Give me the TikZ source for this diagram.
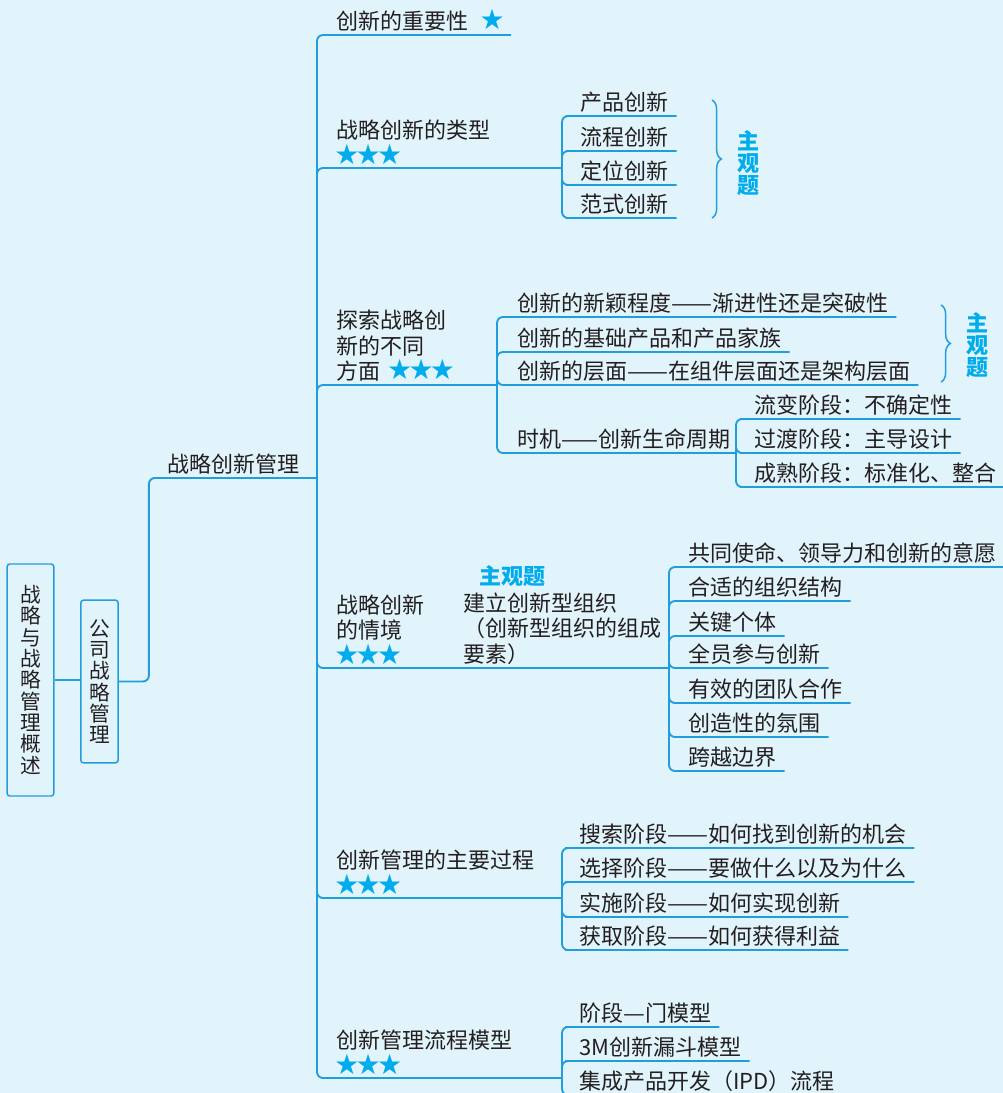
\documentclass[tikz,border=0pt]{standalone}
\usepackage{fontspec}
\setmainfont{Noto Sans CJK SC}
\newfontfamily\starfont{DejaVu Sans}
\usetikzlibrary{decorations.pathreplacing}

\definecolor{bgblue}{RGB}{225,243,251}
\definecolor{lineblue}{RGB}{32,158,220}
\definecolor{starblue}{RGB}{0,172,236}
\definecolor{txtgray}{RGB}{35,31,32}

\newcommand\xing{\makebox[16pt]{\color{starblue}\fontsize{21}{21}\starfont ★}}
\newcommand\sanxing{\xing\xing\xing}
\newcommand\pozhe[1]{\scalebox{1.11}[1]{#1}}

\tikzset{
  conn/.style={draw=lineblue, line width=1.4pt, rounded corners=4.5pt},
  topic/.style={anchor=south west, inner xsep=6pt, inner ysep=2.5pt, align=left,
    text=txtgray, font=\fontsize{16.5}{19}\selectfont},
  vbox/.style={draw=lineblue, line width=1.1pt, rounded corners=2pt, fill=bgblue,
    align=center, inner sep=0pt, text=txtgray, font=\fontsize{15.5}{16}\selectfont},
  tag/.style={align=center, inner sep=0pt, text=starblue,
    font=\fontsize{16.5}{16.5}\selectfont\bfseries},
  kuohao/.style={draw=lineblue, line width=1.1pt, decorate,
    decoration={brace, amplitude=7pt}}
}

\begin{document}
\begin{tikzpicture}[x=0.75pt, y=-0.75pt]

  \path[use as bounding box, fill=bgblue] (0,0) rectangle (1003,1093);

  % left boxes
  \node[vbox, minimum width=35pt, minimum height=174pt] (gl) at (30.5,680)
    {战\\略\\与\\战\\略\\管\\理\\概\\述};
  \node[vbox, minimum width=28pt, minimum height=122pt] (gs) at (99.5,681.5)
    {公\\司\\战\\略\\管\\理};
  \draw[conn] (gl.east) -- (gl.east -| gs.west);

  \node[topic] (scm) at (159,478) {战略创新管理};
  \coordinate (jA) at (317,478);
  \draw[conn] (gs.east) -- ++(30,0) |- (scm.south west) -- (jA);

  % main branches
  \node[topic] (n1) at (328,35) {创新的重要性\hspace{0.6em}\xing};
  \node[topic] (n2) at (328,168) {战略创新的类型\\\sanxing};
  \node[topic] (n3) at (328,385) {探索战略创\\新的不同\\方面\hspace{0.4em}\sanxing};
  \node[topic] (n4) at (328,668) {战略创新\\的情境\\\sanxing};
  \node[topic] (n5) at (328,898) {创新管理的主要过程\\\sanxing};
  \node[topic] (n6) at (328,1078) {创新管理流程模型\\\sanxing};

  \coordinate (jB) at (562,168);
  \coordinate (jC) at (497,385);
  \coordinate (jD) at (669,668);
  \coordinate (jE) at (562,898);
  \coordinate (jF) at (562,1078);
  \coordinate (jG) at (736,453);

  \draw[conn] (jA) |- (n1.south west) -- (n1.south east);
  \draw[conn] (jA) |- (n2.south west) -- (jB);
  \draw[conn] (jA) |- (n3.south west) -- (jC);
  \draw[conn] (jA) |- (n4.south west) -- (jD);
  \draw[conn] (jA) |- (n5.south west) -- (jE);
  \draw[conn] (jA) |- (n6.south west) -- (jF);

  % types
  \node[topic] (t1) at (572,116) {产品创新};
  \node[topic] (t2) at (572,151) {流程创新};
  \node[topic] (t3) at (572,185) {定位创新};
  \node[topic] (t4) at (572,218) {范式创新};
  \draw[conn] (jB) |- (t1.south west) -- (t1.south east);
  \draw[conn] (jB) |- (t2.south west) -- (t2.south east);
  \draw[conn] (jB) |- (t3.south west) -- (t3.south east);
  \draw[conn] (jB) |- (t4.south west) -- (t4.south east);

  \draw[kuohao] (712,100) -- (712,218);
  \node[tag] (zg1) at (748,163) {主\\观\\题};

  % facets
  \node[topic] (f1) at (509,317) {创新的新颖程度\pozhe{——}渐进性还是突破性};
  \node[topic] (f2) at (509,352) {创新的基础产品和产品家族};
  \node[topic] (f3) at (509,385) {创新的层面\pozhe{——}在组件层面还是架构层面};
  \node[topic] (f4) at (509,453) {时机——创新生命周期};
  \draw[conn] (jC) |- (f1.south west) -- (f1.south east);
  \draw[conn] (jC) |- (f2.south west) -- (f2.south east);
  \draw[conn] (jC) |- (f3.south west) -- (f3.south east);
  \draw[conn] (jC) |- (f4.south west) -- (jG);

  \draw[kuohao] (941,305) -- (941,382);
  \node[tag] (zg2) at (977,345) {主\\观\\题};

  \node[topic] (s1) at (746,419) {流变阶段：不确定性};
  \node[topic] (s2) at (746,453) {过渡阶段：主导设计};
  \node[topic] (s3) at (746,487) {成熟阶段：标准化、整合};
  \draw[conn] (jG) |- (s1.south west) -- (s1.south east);
  \draw[conn] (jG) |- (s2.south west) -- (s2.south east);
  \draw[conn] (jG) |- (s3.south west) -- (s3.south east);

  % organization
  \node[tag] (zg3) at (512,576) {主观题};
  \node[topic] (org) at (455,668) {建立创新型组织\\（创新型组织的组成\\要素）};
  \draw[conn] (n4.south east) -- (org.south west);

  \node[topic] (o1) at (680,567) {共同使命、领导力和创新的意愿};
  \node[topic] (o2) at (680,601) {合适的组织结构};
  \node[topic] (o3) at (680,636) {关键个体};
  \node[topic] (o4) at (680,668) {全员参与创新};
  \node[topic] (o5) at (680,703) {有效的团队合作};
  \node[topic] (o6) at (680,737) {创造性的氛围};
  \node[topic] (o7) at (680,771) {跨越边界};
  \draw[conn] (jD) |- (o1.south west) -- (o1.south east);
  \draw[conn] (jD) |- (o2.south west) -- (o2.south east);
  \draw[conn] (jD) |- (o3.south west) -- (o3.south east);
  \draw[conn] (jD) |- (o4.south west) -- (o4.south east);
  \draw[conn] (jD) |- (o5.south west) -- (o5.south east);
  \draw[conn] (jD) |- (o6.south west) -- (o6.south east);
  \draw[conn] (jD) |- (o7.south west) -- (o7.south east);

  % process
  \node[topic] (p1) at (571,848) {搜索阶段\pozhe{——}如何找到创新的机会};
  \node[topic] (p2) at (571,882) {选择阶段\pozhe{——}要做什么以及为什么};
  \node[topic] (p3) at (571,917) {实施阶段\pozhe{——}如何实现创新};
  \node[topic] (p4) at (571,950) {获取阶段\pozhe{——}如何获得利益};
  \draw[conn] (jE) |- (p1.south west) -- (p1.south east);
  \draw[conn] (jE) |- (p2.south west) -- (p2.south east);
  \draw[conn] (jE) |- (p3.south west) -- (p3.south east);
  \draw[conn] (jE) |- (p4.south west) -- (p4.south east);

  % models
  \node[topic] (m1) at (571,1027) {阶段\pozhe{—}门模型};
  \node[topic] (m2) at (571,1061) {3M创新漏斗模型};
  \node[topic] (m3) at (571,1095) {集成产品开发（IPD）流程};
  \draw[conn] (jF) |- (m1.south west) -- (m1.south east);
  \draw[conn] (jF) |- (m2.south west) -- (m2.south east);
  \draw[conn] (jF) |- (m3.south west) -- (m3.south east);

\end{tikzpicture}
\end{document}
